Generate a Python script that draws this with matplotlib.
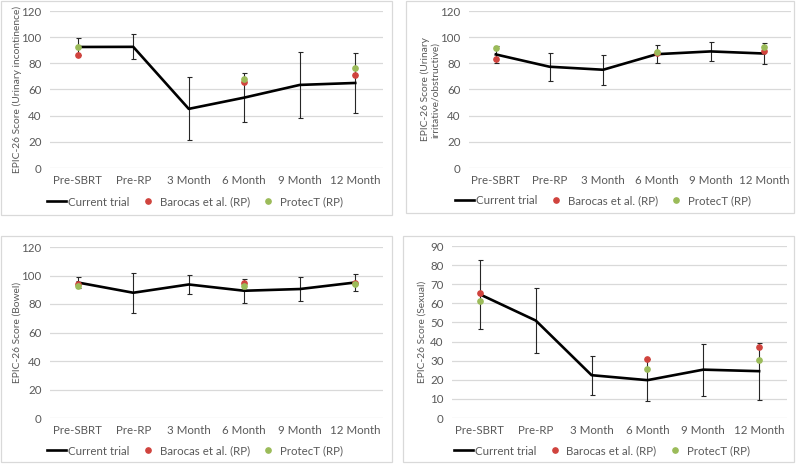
import numpy as np
import matplotlib
matplotlib.use("Agg")
import matplotlib.pyplot as plt
from matplotlib.patches import Rectangle

plt.rcParams["font.family"] = ["Lato", "DejaVu Sans"]

W, H = 800, 465
nan = np.nan

months = ["Pre-SBRT", "Pre-RP", "3 Month", "6 Month", "9 Month", "12 Month"]

# Urinary incontinence
inc_cur = [92.5, 92.6, 45.2, 53.8, 63.5, 65.0]
inc_err = [6.5, 9.6, 24.0, 18.6, 25.3, 22.6]
inc_baro = [86.5, nan, nan, 65.5, nan, 70.8]
inc_prot = [92.6, nan, nan, 67.8, nan, 76.6]

# Urinary irritative/obstructive
irr_cur = [86.8, 77.4, 75.1, 87.0, 89.1, 87.5]
irr_err = [6.4, 10.8, 11.3, 7.1, 7.3, 8.0]
irr_baro = [83.0, nan, nan, 87.8, nan, 89.3]
irr_prot = [91.9, nan, nan, 88.5, nan, 92.6]

# Bowel
bow_cur = [95.1, 87.9, 93.7, 89.3, 90.5, 95.1]
bow_err = [3.7, 14.0, 7.0, 8.4, 8.4, 6.0]
bow_baro = [94.0, nan, nan, 94.7, nan, 94.7]
bow_prot = [92.6, nan, nan, 92.6, nan, 93.7]

# Sexual
sex_cur = [64.7, 51.0, 22.4, 19.8, 25.3, 24.5]
sex_err = [18.0, 17.2, 10.3, 11.1, 13.6, 15.0]
sex_baro = [65.2, nan, nan, 30.9, nan, 37.1]
sex_prot = [61.4, nan, nan, 25.7, nan, 30.1]

GRAY = "#595959"
GRID = "#D9D9D9"
RED = "#D0433D"
GREEN = "#9BBB59"
FS = 8.3
FS_LAB = 7.4

fig = plt.figure(figsize=(W / 100, H / 100), dpi=100)

# per panel: data, ylabel, y range, axes box px, frame box px, legend centre px, ylabel right edge px
panels = [
    (inc_cur, inc_err, inc_baro, inc_prot, "EPIC-26 Score (Urinary incontinence)",
     120, 20, (50, 11, 383, 168), (1, 1, 392, 215), (195, 202), 22),
    (irr_cur, irr_err, irr_baro, irr_prot, "EPIC-26 Score (Urinary\nirritative/obstructive)",
     120, 20, (469, 11, 791, 168), (406, 1, 794, 213), (603, 201), 440),
    (bow_cur, bow_err, bow_baro, bow_prot, "EPIC-26 Score (Bowel)",
     120, 20, (50, 247, 383, 418), (1, 236, 392, 462), (195, 451), 22),
    (sex_cur, sex_err, sex_baro, sex_prot, "EPIC-26 Score (Sexual)",
     90, 10, (452, 246, 787, 418), (403, 236, 794, 462), (602, 451), 427),
]

x = np.arange(len(months))

for cur, err, baro, prot, ylab, ymax, ystep, abox, fbox, lpos, ylx in panels:
    fx0, fy0, fx1, fy1 = fbox
    fig.add_artist(Rectangle((fx0 / W, 1 - fy1 / H), (fx1 - fx0) / W, (fy1 - fy0) / H,
                             transform=fig.transFigure, facecolor="none",
                             edgecolor=GRID, lw=0.9))

    x0, y0, x1, y1 = abox
    ax = fig.add_axes([x0 / W, 1 - y1 / H, (x1 - x0) / W, (y1 - y0) / H])
    ax.set_facecolor("none")

    ax.errorbar(x, cur, yerr=err, fmt="none", ecolor="#262626", elinewidth=0.8,
                capsize=1.8, capthick=0.8, zorder=2)
    ax.plot(x, cur, color="black", lw=1.9, label="Current trial", zorder=3)
    ax.plot(x, baro, linestyle="none", marker="o", ms=3.8, color=RED,
            label="Barocas et al. (RP)", zorder=4, clip_on=False)
    ax.plot(x, prot, linestyle="none", marker="o", ms=3.8, color=GREEN,
            label="ProtecT (RP)", zorder=5, clip_on=False)

    ax.set_xlim(-0.5, len(months) - 0.5)
    ax.set_ylim(0, ymax)
    ax.set_yticks(np.arange(0, ymax + 1, ystep))
    ax.set_xticks(x)
    ax.set_xticklabels(months)
    ax.yaxis.grid(True, color=GRID, lw=0.9)
    ax.set_axisbelow(True)
    for s in ax.spines.values():
        s.set_visible(False)
    ax.tick_params(length=0, labelsize=FS, labelcolor=GRAY)
    ax.tick_params(axis="x", pad=5)
    ax.tick_params(axis="y", pad=6)

    ax.set_ylabel(ylab, fontsize=FS_LAB, color=GRAY, linespacing=1.1)
    ax.yaxis.set_label_coords((ylx - x0) / (x1 - x0), 0.5)

    ax.legend(loc="center", bbox_to_anchor=(lpos[0] / W, 1 - lpos[1] / H),
              bbox_transform=fig.transFigure, ncol=3, frameon=False,
              fontsize=FS, labelcolor=GRAY, handlelength=1.6,
              handletextpad=0.2, columnspacing=0.8, borderpad=0)

plt.savefig("out.png", dpi=100)
